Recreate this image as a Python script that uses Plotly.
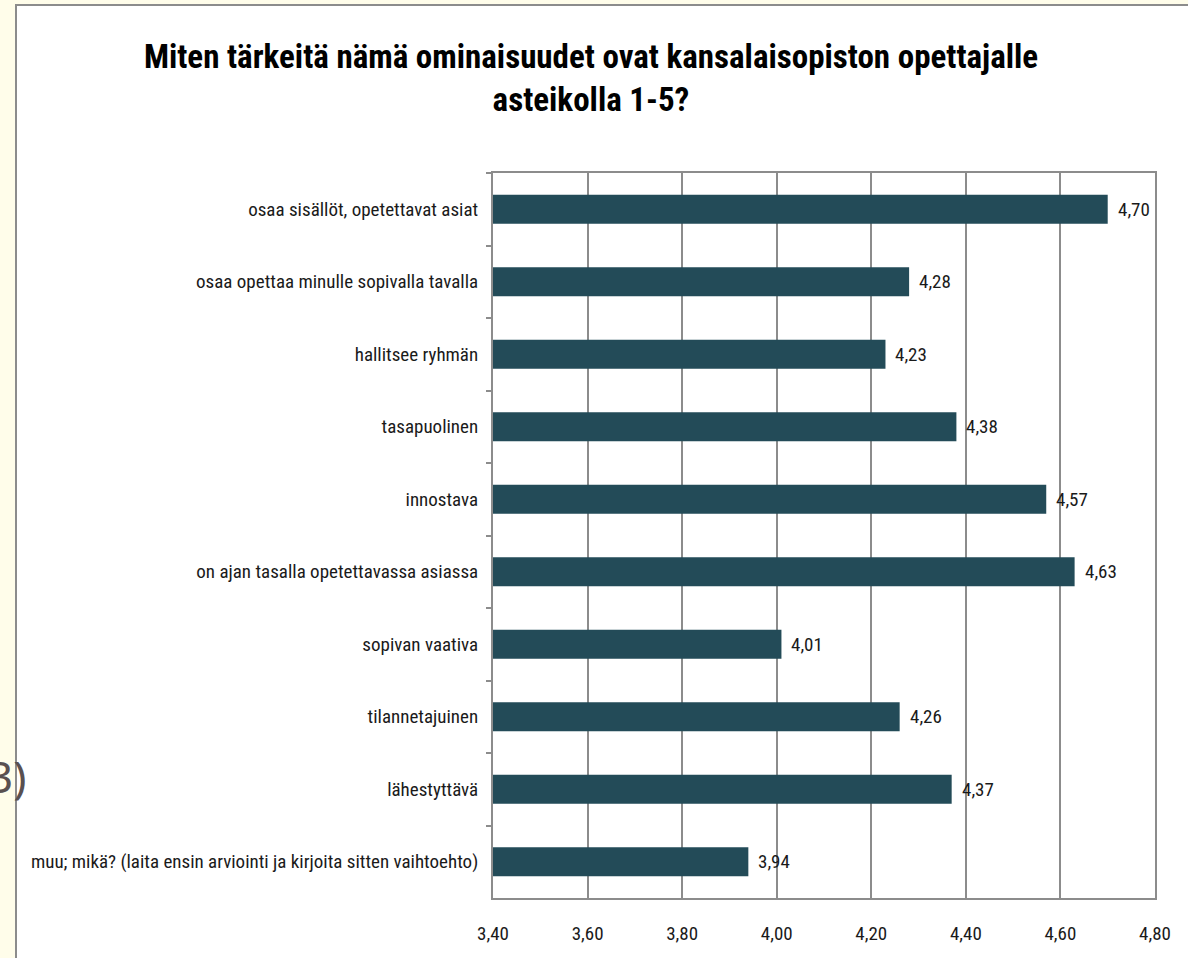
import plotly.graph_objects as go

categories = [
    "osaa sisällöt, opetettavat asiat",
    "osaa opettaa minulle sopivalla tavalla",
    "hallitsee ryhmän",
    "tasapuolinen",
    "innostava",
    "on ajan tasalla opetettavassa asiassa",
    "sopivan vaativa",
    "tilannetajuinen",
    "lähestyttävä",
    "muu; mikä? (laita ensin arviointi ja kirjoita sitten vaihtoehto)",
]
values = [4.70, 4.28, 4.23, 4.38, 4.57, 4.63, 4.01, 4.26, 4.37, 3.94]
tick_vals = [3.40, 3.60, 3.80, 4.00, 4.20, 4.40, 4.60, 4.80]
tick_text = ["3,40", "3,60", "3,80", "4,00", "4,20", "4,40", "4,60", "4,80"]
title_text = "Miten tärkeitä nämä ominaisuudet ovat kansalaisopiston opettajalle<br>asteikolla 1-5?"

FONT = "Liberation Sans Narrow, Arial Narrow, Roboto Condensed, Liberation Sans, sans-serif"
W, H = 1188, 958
L, R, T = 493, 33, 173
B = H - 898
pw, ph = W - L - R, H - T - B


def px_x(x):
    return (x - L) / pw


def px_y(y):
    return (H - B - y) / ph


fig = go.Figure()
fig.add_trace(go.Bar(
    x=values,
    y=categories,
    orientation="h",
    marker=dict(color="#234B58", line=dict(width=0)),
    width=0.4,
    hoverinfo="x+y",
))

for c, v in zip(categories, values):
    fig.add_annotation(
        x=v, y=c, xref="x", yref="y",
        text=f"{v:.2f}".replace(".", ","),
        showarrow=False, xanchor="left", xshift=8,
        font=dict(family=FONT, size=19, color="#1a1a1a"),
    )

# slide background: cream strip and white panel with grey border
fig.add_shape(type="rect", xref="paper", yref="paper",
              x0=px_x(16), x1=px_x(W + 10), y0=px_y(H + 20), y1=px_y(5),
              fillcolor="white", line=dict(color="#8c8c8c", width=2), layer="below")

fig.add_annotation(
    xref="paper", yref="paper", x=px_x(28), y=px_y(776),
    text="3)", showarrow=False, xanchor="right", yanchor="middle",
    font=dict(family="Noto Sans, Open Sans, sans-serif", size=44, color="#595050"),
)

fig.update_layout(
    width=W, height=H,
    margin=dict(l=L, r=R, t=T, b=B, pad=0, autoexpand=False),
    paper_bgcolor="#fffdea",
    plot_bgcolor="rgba(0,0,0,0)",
    showlegend=False,
    title=dict(
        text=title_text,
        x=591 / W, xanchor="center", xref="container",
        y=1 - 68 / H, yanchor="top", yref="container",
        font=dict(family=FONT, size=33, color="#000000", weight="bold"),
    ),
    font=dict(family=FONT, size=19, color="#1a1a1a"),
)
fig.update_xaxes(
    range=[3.40, 4.80],
    tickvals=tick_vals, ticktext=tick_text,
    showgrid=True, gridcolor="#8c8c8c", gridwidth=1.5,
    showline=True, linecolor="#8c8c8c", linewidth=2, mirror=True,
    ticks="", ticklabelstandoff=17,
    tickfont=dict(family=FONT, size=19, color="#1a1a1a"),
    zeroline=False, fixedrange=True, automargin=False,
)
fig.update_yaxes(
    autorange="reversed",
    showgrid=False,
    showline=True, linecolor="#8c8c8c", linewidth=2, mirror=True,
    ticks="outside", tickson="boundaries", ticklen=5, tickcolor="#8c8c8c", tickwidth=1.5,
    ticklabelstandoff=9,
    tickfont=dict(family=FONT, size=19, color="#1a1a1a"),
    fixedrange=True, automargin=False,
)

fig.write_html(
    "out.html",
    config={"displayModeBar": False},
    post_script="document.body.style.margin='0';document.body.style.overflow='hidden';window.scrollTo(0,0);",
)
